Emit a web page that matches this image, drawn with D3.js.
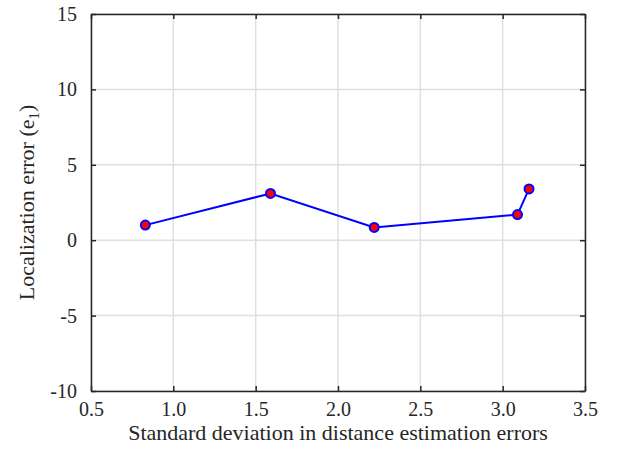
<!DOCTYPE html>
<html>
<head>
<meta charset="utf-8">
<script src="https://cdn.jsdelivr.net/npm/d3@7"></script>
<style>
  body { margin: 0; background: #fff; }
</style>
</head>
<body>
<div id="chart"></div>
<script>
// data
var sigma = [0.83, 1.59, 2.22, 3.09, 3.16];
var locError = [1.0, 3.1, 0.85, 1.7, 3.4];
var xTicks = [0.5, 1.0, 1.5, 2.0, 2.5, 3.0, 3.5];
var yTicks = [-10, -5, 0, 5, 10, 15];

var FONT = "'Liberation Serif', 'Times New Roman', Times, serif";
var W = 618, H = 456;
var margin = {top: 14, right: 33, bottom: 65, left: 91};
var w = W - margin.left - margin.right,
    h = H - margin.top - margin.bottom;

var svg = d3.select("#chart").append("svg")
    .attr("width", W)
    .attr("height", H)
    .attr("font-family", FONT);

var g = svg.append("g")
    .attr("transform", "translate(" + margin.left + "," + margin.top + ")");

var x = d3.scaleLinear().domain([0.5, 3.5]).range([0, w]);
var y = d3.scaleLinear().domain([-10, 15]).range([h, 0]);

// grid
g.selectAll(".vgrid").data(xTicks).enter().append("line")
    .attr("x1", d => x(d)).attr("x2", d => x(d))
    .attr("y1", 0).attr("y2", h)
    .attr("stroke", "#dfdfdf").attr("stroke-width", 1.5);
g.selectAll(".hgrid").data(yTicks).enter().append("line")
    .attr("y1", d => y(d)).attr("y2", d => y(d))
    .attr("x1", 0).attr("x2", w)
    .attr("stroke", "#dfdfdf").attr("stroke-width", 1.5);

// axes, ticks pointing inward like matlab
var xAxis = g.append("g").attr("transform", "translate(0," + h + ")")
    .call(d3.axisBottom(x).tickValues(xTicks).tickFormat(d3.format(".1f")).tickSizeInner(-5).tickSizeOuter(0).tickPadding(11));
var xTop = g.append("g")
    .call(d3.axisTop(x).tickValues(xTicks).tickFormat("").tickSizeInner(-5).tickSizeOuter(0));
var yAxis = g.append("g")
    .call(d3.axisLeft(y).tickValues(yTicks).tickFormat(d => String(d)).tickSizeInner(-5).tickSizeOuter(0).tickPadding(14));
var yRight = g.append("g").attr("transform", "translate(" + w + ",0)")
    .call(d3.axisRight(y).tickValues(yTicks).tickFormat("").tickSizeInner(-5).tickSizeOuter(0));

[xAxis, xTop, yAxis, yRight].forEach(function(a) {
  a.attr("font-family", FONT).attr("font-size", 20);
  a.select(".domain").attr("stroke", "#262626").attr("stroke-width", 1.5);
  a.selectAll(".tick line").attr("stroke", "#262626").attr("stroke-width", 1.5);
  a.selectAll(".tick text").attr("fill", "#262626");
});

// line + markers
var pts = sigma.map((s, i) => [s, locError[i]]);
g.append("path")
    .datum(pts)
    .attr("fill", "none")
    .attr("stroke", "#0000ff")
    .attr("stroke-width", 2)
    .attr("d", d3.line().x(d => x(d[0])).y(d => y(d[1])));

g.selectAll(".dot").data(pts).enter().append("circle")
    .attr("class", "dot")
    .attr("cx", d => x(d[0]))
    .attr("cy", d => y(d[1]))
    .attr("r", 4.5)
    .attr("fill", "#ff0000")
    .attr("stroke", "#0000ff")
    .attr("stroke-width", 2);

// labels
svg.append("text")
    .attr("x", margin.left + w / 2)
    .attr("y", 440)
    .attr("text-anchor", "middle")
    .attr("font-size", 22)
    .attr("fill", "#262626")
    .text("Standard deviation in distance estimation errors");

var yl = svg.append("text")
    .attr("transform", "translate(34," + (margin.top + h / 2) + ") rotate(-90)")
    .attr("text-anchor", "middle")
    .attr("font-size", 22)
    .attr("fill", "#262626");
yl.append("tspan").text("Localization error (e");
yl.append("tspan").attr("dy", 5).attr("font-size", 15).text("1");
yl.append("tspan").attr("dy", -5).text(")");
</script>
</body>
</html>
